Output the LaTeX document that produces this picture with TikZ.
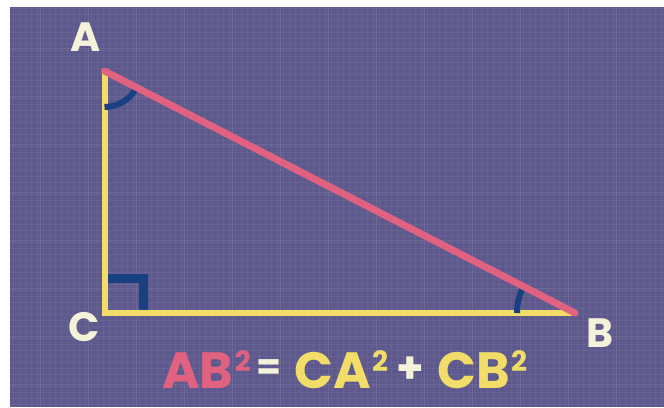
\documentclass[tikz,border=0pt]{standalone}
\usepackage{fontspec}
\setmainfont{Poppins}
\usetikzlibrary{calc}
\definecolor{bgpurple}{RGB}{94,89,140}
\definecolor{pk}{RGB}{224,98,128}
\definecolor{yl}{RGB}{242,221,104}
\definecolor{cr}{RGB}{244,242,216}
\definecolor{db}{RGB}{24,64,130}
\tikzset{
  legline/.style={yl, line width=6pt},
  hypline/.style={pk, line width=7pt, line cap=round},
  anglemark/.style={db, line width=6pt},
  rightmark/.style={db, line width=9pt},
  vlabel/.style={cr, inner sep=0pt, font=\fontsize{41}{41}\selectfont\bfseries},
  eqbig/.style={inner sep=0pt, anchor=base west, font=\fontsize{51}{51}\selectfont\bfseries},
  eqsup/.style={inner sep=0pt, anchor=base west, font=\fontsize{28}{28}\selectfont\bfseries},
  eqop/.style={cr, inner sep=0pt, font=\fontsize{36}{36}\selectfont\bfseries},
  eqplus/.style={cr, inner sep=0pt, font=\fontsize{44}{44}\selectfont\bfseries},
  gridfaint/.style={white, opacity=0.05, line width=0.8pt},
  gridstrong/.style={white, opacity=0.09, line width=1pt},
}
\begin{document}
\begin{tikzpicture}[x=1pt,y=1pt]
\useasboundingbox (0,0) rectangle (664,407);
\fill[white] (0,0) rectangle (664,407);
\fill[bgpurple] (10,0) rectangle (664,400);
\begin{scope}
\clip (10,0) rectangle (664,400);
\foreach \x in {13,19,...,664} \draw[gridfaint] (\x,0) -- (\x,400);
\foreach \y in {3,9,...,400} \draw[gridfaint] (10,\y) -- (664,\y);
\foreach \x in {40,88,...,664} \draw[gridstrong] (\x,0) -- (\x,400);
\foreach \y in {22,70,...,400} \draw[gridstrong] (10,\y) -- (664,\y);
\end{scope}
% vertices
\coordinate (A) at (104.5,336);
\coordinate (C) at (104.5,94);
\coordinate (B) at (575,94);
% legs
\draw[legline] (A) -- (C) -- ($(B)+(-3,0)$);
% right angle mark
\draw[rightmark] ($(C)+(3.5,34.5)$) -- ($(C)+(38.5,34.5)$) -- ($(C)+(38.5,3)$);
% angle arcs
\draw[anglemark] ($(A)+(-90:36)$) arc[start angle=-90, end angle=-27.2, radius=36];
\draw[anglemark] ($(B)+(180:58)$) arc[start angle=180, end angle=152.8, radius=58];
% hypotenuse
\draw[hypline] (A) -- (B);
% labels
\node[vlabel] (lA) at (86,370) {A};
\node[vlabel] (lC) at (84,80) {C};
\node[vlabel] (lB) at (600,74) {B};
% equation
\node[eqbig, pk] (eAB) at (162,19) {AB};
\node[eqsup, pk] (eAB2) at ($(eAB.base east)+(1,16)$) {2};
\node[eqop] (eq) at (269,37) {=};
\node[eqbig, yl] (eCA) at (294,19) {CA};
\node[eqsup, yl] (eCA2) at ($(eCA.base east)+(1,16)$) {2};
\node[eqplus] (plus) at (410,37) {+};
\node[eqbig, yl] (eCB) at (437,19) {CB};
\node[eqsup, yl] (eCB2) at ($(eCB.base east)+(1,16)$) {2};
\end{tikzpicture}
\end{document}
